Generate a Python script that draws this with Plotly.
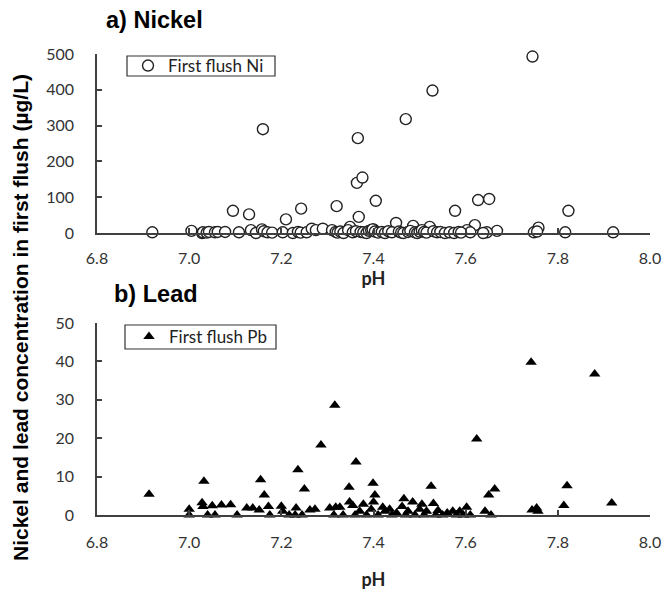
import plotly.graph_objects as go

# ---- Data: Nickel (first flush) ----
ni_ph = [6.92, 7.005, 7.095, 7.13, 7.16, 7.21, 7.243, 7.32, 7.366, 7.364, 7.376, 7.368,
         7.405, 7.47, 7.528, 7.577, 7.627, 7.651, 7.745, 7.823, 7.62, 7.758, 7.449, 7.486,
         7.522, 7.349, 7.40, 7.92, 7.816, 7.748, 7.755, 7.668, 7.646, 7.638, 7.603, 7.61,
         7.028, 7.03, 7.038, 7.043, 7.056, 7.062, 7.078, 7.108, 7.134, 7.145, 7.158, 7.162,
         7.17, 7.18, 7.203, 7.225, 7.236, 7.242, 7.255, 7.266, 7.275, 7.29, 7.31, 7.318,
         7.322, 7.328, 7.335, 7.345, 7.355, 7.362, 7.372, 7.378, 7.385, 7.39, 7.395, 7.398,
         7.403, 7.41, 7.418, 7.425, 7.432, 7.44, 7.455, 7.46, 7.465, 7.475, 7.48, 7.49,
         7.495, 7.50, 7.505, 7.51, 7.515, 7.53, 7.538, 7.545, 7.555, 7.565, 7.575, 7.585, 7.59]
ni_val = [2, 6, 62, 52, 290, 38, 68, 75, 265, 140, 155, 45,
          90, 318, 398, 62, 92, 95, 493, 62, 22, 15, 28, 20,
          17, 17, 10, 2, 2, 2, 4, 6, 2, 0, 8, 2,
          0, 2, 1, 3, 2, 3, 3, 2, 8, 0, 10, 5,
          2, 1, 2, 0, 3, 1, 2, 12, 8, 12, 8, 3,
          1, 4, 0, 8, 2, 5, 3, 2, 0, 6, 8, 10,
          4, 1, 3, 0, 5, 2, 4, 1, 0, 3, 6, 2,
          0, 4, 8, 3, 1, 5, 2, 3, 0, 2, 0, 3, 1]

# ---- Data: Lead (first flush) ----
pb_ph = [6.913, 7.0, 7.0, 7.028, 7.032, 7.03, 7.04, 7.05, 7.056, 7.07, 7.09, 7.104, 7.125,
         7.138, 7.152, 7.155, 7.163, 7.172, 7.175, 7.2, 7.203, 7.217, 7.23, 7.236, 7.232,
         7.25, 7.245, 7.262, 7.273, 7.286, 7.305, 7.314, 7.316, 7.318, 7.327, 7.334, 7.347,
         7.348, 7.362, 7.355, 7.36, 7.37, 7.378, 7.385, 7.399, 7.403, 7.40, 7.395, 7.41,
         7.42, 7.425, 7.435, 7.44, 7.45, 7.466, 7.462, 7.47, 7.475, 7.485, 7.49, 7.5, 7.505,
         7.51, 7.515, 7.525, 7.53, 7.535, 7.54, 7.55, 7.56, 7.572, 7.58, 7.587, 7.595, 7.602,
         7.61, 7.624, 7.642, 7.65, 7.655, 7.663, 7.742, 7.744, 7.754, 7.757, 7.813, 7.82,
         7.88, 7.917]
pb_val = [5.4, 1.5, 0, 3.2, 8.8, 2.2, 0, 2.4, 0, 2.6, 2.7, 0, 1.8,
          1.8, 1.3, 9.2, 5.2, 2.2, 0, 2.3, 1.0, 0, 0, 11.8, 1.8,
          6.8, 0, 1.3, 1.5, 18.2, 1.8, 0, 28.6, 2, 2, 0, 7.2,
          3.4, 13.8, 2.5, 0, 1, 2.8, 0, 8.3, 5.2, 3.4, 1.5, 0,
          2, 1, 1.5, 0, 0.5, 4.2, 2.2, 0, 1, 3.4, 0, 1.5, 2.8,
          0, 1, 7.5, 3, 0, 1.2, 0, 0.5, 1, 0, 1, 0, 2,
          0, 19.8, 1, 5.2, 0, 6.8, 39.8, 1.3, 1.8, 1, 2.5, 7.6,
          36.7, 3.1]

x_ticks = [6.8, 7.0, 7.2, 7.4, 7.6, 7.8, 8.0]
x_ticktext = ["6.8", "7.0", "7.2", "7.4", "7.6", "7.8", "8.0"]
ni_yticks = [0, 100, 200, 300, 400, 500]
pb_yticks = [0, 10, 20, 30, 40, 50]

W, H = 665, 599
def px_x(p):
    return p / W
def px_y(p):
    return 1 - p / H

AX = "#404040"
BODY = "Lato, Calibri, sans-serif"
TICKFONT = dict(family=BODY, size=16, color="#333333")
TITLEFONT = dict(family=BODY, size=18, color="#222222")

fig = go.Figure()
fig.add_trace(go.Scatter(
    x=ni_ph, y=ni_val, mode="markers", name="First flush Ni",
    marker=dict(symbol="circle", size=11, color="white", line=dict(color="#222222", width=1.4)),
    xaxis="x", yaxis="y", cliponaxis=False, legend="legend"))
fig.add_trace(go.Scatter(
    x=pb_ph, y=pb_val, mode="markers", name="First flush Pb",
    marker=dict(symbol="triangle-up", size=10, color="black", line=dict(color="black", width=0)),
    xaxis="x2", yaxis="y2", cliponaxis=False, legend="legend2"))

xcommon = dict(range=[6.8, 8.0], tickvals=x_ticks, ticktext=x_ticktext, ticks="inside",
               ticklen=5, tickwidth=1.5, tickcolor=AX, showline=True, linecolor=AX, linewidth=1.5,
               showgrid=False, zeroline=False, tickfont=TICKFONT, automargin=False,
               domain=[px_x(97), px_x(650)], fixedrange=True)
ycommon = dict(ticks="inside", ticklen=5, tickwidth=1.5, tickcolor=AX, showline=True,
               linecolor=AX, linewidth=1.5, showgrid=False, zeroline=False, tickfont=TICKFONT,
               ticklabelstandoff=18, automargin=False, fixedrange=True)

legfont = dict(family=BODY, size=17, color="#222222")

fig.update_layout(
    width=W, height=H, autosize=False,
    margin=dict(l=0, r=0, t=0, b=0, autoexpand=False),
    paper_bgcolor="white", plot_bgcolor="white",
    showlegend=True,
    xaxis=dict(**xcommon, anchor="y", ticklabelstandoff=10,
               title=dict(text="<b>pH</b>", font=TITLEFONT, standoff=0)),
    yaxis=dict(**ycommon, range=[0, 500], tickvals=ni_yticks,
               domain=[px_y(233), px_y(54)], anchor="x"),
    xaxis2=dict(**xcommon, anchor="y2", ticklabelstandoff=12,
                title=dict(text="<b>pH</b>", font=TITLEFONT, standoff=23)),
    yaxis2=dict(**ycommon, range=[0, 50], tickvals=pb_yticks,
                domain=[px_y(515), px_y(323)], anchor="x2"),
    legend=dict(x=px_x(128), y=px_y(66), xanchor="left", yanchor="middle",
                borderwidth=0, bgcolor="rgba(0,0,0,0)", font=legfont,
                itemwidth=30, tracegroupgap=0),
    legend2=dict(x=px_x(129), y=px_y(337), xanchor="left", yanchor="middle",
                 borderwidth=0, bgcolor="rgba(0,0,0,0)", font=legfont,
                 itemwidth=30, tracegroupgap=0),
    shapes=[
        dict(type="rect", xref="paper", yref="paper", x0=px_x(127), x1=px_x(275),
             y0=px_y(76), y1=px_y(56), line=dict(color="#333333", width=1.2), layer="below"),
        dict(type="rect", xref="paper", yref="paper", x0=px_x(125), x1=px_x(276),
             y0=px_y(349), y1=px_y(325), line=dict(color="#333333", width=1.2), layer="below"),
    ],
    annotations=[
        dict(text="<b>a) Nickel</b>", x=px_x(104), y=px_y(20), xref="paper", yref="paper",
             xanchor="left", yanchor="middle", showarrow=False,
             font=dict(family="Liberation Sans, Arial, sans-serif", size=23.5, color="black")),
        dict(text="<b>b) Lead</b>", x=px_x(112), y=px_y(294), xref="paper", yref="paper",
             xanchor="left", yanchor="middle", showarrow=False,
             font=dict(family="Liberation Sans, Arial, sans-serif", size=23.5, color="black")),
        dict(text="<b>Nickel and lead concentration in first flush (µg/L)</b>",
             x=px_x(20), y=px_y(318), xref="paper", yref="paper", textangle=-90,
             xanchor="center", yanchor="middle", showarrow=False,
             font=dict(family="Liberation Sans, Arial, sans-serif", size=21, color="black")),
    ],
)

fig.write_html("out.html")
